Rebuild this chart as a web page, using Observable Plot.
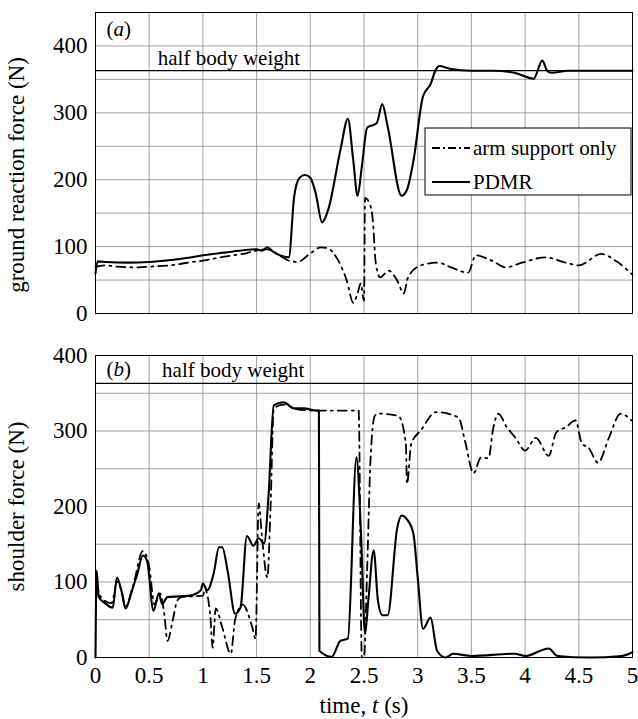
<!DOCTYPE html>
<html>
<head>
<meta charset="utf-8">
<script src="https://cdn.jsdelivr.net/npm/d3@7"></script>
<script src="https://cdn.jsdelivr.net/npm/@observablehq/plot@0.6"></script>
<style>
  body { margin: 0; background: #fff; }
  #chart { width: 638px; }
  #chart svg { display: block; }
</style>
</head>
<body>
<div id="chart"></div>
<script>
// ---------- data ----------
const xTicks = [0, 0.5, 1, 1.5, 2, 2.5, 3, 3.5, 4, 4.5, 5];
const xTickLabels = ["0", "0.5", "1", "1.5", "2", "2.5", "3", "3.5", "4", "4.5", "5"];
const yTicks = [0, 100, 200, 300, 400];
const gridTimes = [0.5, 1, 1.5, 2, 2.5, 3, 3.5, 4, 4.5];
const gridForces = [50, 100, 150, 200, 250, 300, 350, 400];
const halfBodyWeight = 363;
const seriesNames = ["arm support only", "PDMR"];
const panelLetters = ["a", "b"];
const yLabels = ["ground reaction force (N)", "shoulder force (N)"];
const xLabel = "time, t (s)";

// (a) ground reaction force, PDMR  [time s, force N]
const grfPDMR = [
  [0, 60], [0.02, 78], [0.1, 77], [0.3, 76], [0.5, 77], [0.7, 80], [0.9, 84], [1.0, 87],
  [1.2, 91], [1.4, 95], [1.5, 96], [1.55, 94], [1.6, 99], [1.65, 93], [1.8, 84],
  [1.85, 175], [1.9, 203], [1.95, 207], [2.0, 203], [2.05, 180], [2.11, 136],
  [2.13, 140], [2.17, 157], [2.28, 244], [2.35, 291], [2.4, 229], [2.44, 176],
  [2.48, 220], [2.53, 278], [2.59, 282], [2.62, 285], [2.67, 313], [2.72, 280],
  [2.85, 176], [2.9, 185], [2.96, 228], [3.05, 325], [3.12, 343], [3.17, 365],
  [3.2, 370], [3.3, 366], [3.5, 363], [3.7, 363], [3.9, 360], [4.08, 351],
  [4.16, 378], [4.21, 362], [4.25, 360], [4.4, 363], [5.0, 363]
];
// (a) ground reaction force, arm support only
const grfArm = [
  [0, 70], [0.1, 72], [0.2, 70], [0.4, 69], [0.5, 70], [0.7, 72], [0.9, 77], [1.0, 79],
  [1.2, 85], [1.4, 90], [1.5, 94], [1.6, 96], [1.7, 88], [1.8, 79], [1.88, 77],
  [2.0, 90], [2.1, 99], [2.17, 97], [2.25, 82], [2.34, 49], [2.4, 16], [2.44, 30],
  [2.47, 45], [2.5, 19], [2.51, 173], [2.55, 165], [2.58, 143], [2.61, 75],
  [2.65, 54], [2.73, 64], [2.81, 49], [2.87, 30], [2.91, 54], [3.03, 72],
  [3.19, 76], [3.31, 69], [3.47, 61], [3.54, 87], [3.69, 79], [3.82, 69],
  [3.97, 76], [4.19, 84], [4.38, 76], [4.5, 72], [4.71, 89], [4.85, 78], [5.0, 58]
];
// (b) shoulder force, PDMR
const shPDMR = [
  [0, 0], [0.01, 115], [0.03, 80], [0.08, 73], [0.16, 66], [0.2, 106], [0.24, 89],
  [0.28, 65], [0.34, 89], [0.39, 111], [0.44, 135], [0.48, 128], [0.54, 62],
  [0.59, 85], [0.62, 71], [0.67, 80], [0.88, 82], [0.98, 89], [1.0, 98], [1.04, 89],
  [1.1, 111], [1.15, 146], [1.18, 146], [1.23, 115], [1.3, 58], [1.35, 66],
  [1.41, 161], [1.47, 148], [1.52, 158], [1.57, 151], [1.61, 212], [1.66, 334],
  [1.75, 338], [1.85, 330], [1.94, 330], [2.06, 327], [2.08, 327], [2.085, 9],
  [2.2, 1], [2.28, 22], [2.35, 25], [2.43, 265], [2.47, 172], [2.51, 32], [2.54, 75],
  [2.59, 142], [2.63, 75], [2.67, 56], [2.72, 56], [2.81, 172], [2.85, 188],
  [2.9, 183], [2.96, 164], [3.0, 106], [3.05, 38], [3.12, 53], [3.18, 9], [3.26, 0],
  [3.33, 5], [3.5, 2], [3.9, 5], [4.0, 2], [4.22, 12], [4.3, 2], [4.6, 0], [4.9, 2], [5.0, 7]
];
// (b) shoulder force, arm support only
const shArm = [
  [0.01, 100], [0.05, 80], [0.15, 72], [0.2, 100], [0.24, 90], [0.28, 68], [0.35, 95],
  [0.44, 141], [0.5, 120], [0.55, 70], [0.6, 85], [0.64, 58], [0.67, 22], [0.72, 50],
  [0.76, 75], [0.8, 80], [1.0, 82], [1.02, 90], [1.07, 53], [1.09, 13], [1.12, 65],
  [1.18, 40], [1.26, 5], [1.3, 50], [1.37, 70], [1.46, 40], [1.49, 25], [1.52, 204],
  [1.55, 160], [1.6, 106], [1.63, 200], [1.66, 330], [1.75, 335], [1.9, 328],
  [2.1, 327], [2.45, 327], [2.48, 0], [2.5, 0], [2.53, 120], [2.56, 260], [2.6, 320],
  [2.63, 323], [2.82, 320], [2.89, 283], [2.9, 230], [2.94, 283], [3.03, 301],
  [3.17, 325], [3.38, 318], [3.44, 287], [3.52, 244], [3.59, 265], [3.66, 264],
  [3.7, 301], [3.75, 323], [3.83, 305], [3.91, 291], [4.0, 274], [4.1, 291],
  [4.22, 267], [4.29, 298], [4.38, 305], [4.47, 314], [4.53, 283], [4.59, 278],
  [4.68, 258], [4.78, 291], [4.89, 323], [4.99, 314]
];

// ---------- style ----------
const FONT = "'Liberation Serif', 'Times New Roman', serif";
const W = 638, ML = 95, MR = 6;
const gridColor = "#8a8a8a";
const dashDot = "9,5,2,5";

function italicize(svg, full, pieces) {
  d3.select(svg).selectAll("text").filter(function () { return this.textContent === full; })
    .each(function () {
      const t = d3.select(this);
      t.text(null);
      pieces.forEach(([s, it]) => {
        const sp = t.append("tspan").text(s);
        if (it) sp.attr("font-style", "italic");
      });
    });
}

function panel(o) {
  const marks = [
    Plot.gridX(gridTimes, {stroke: gridColor, strokeOpacity: 1, strokeWidth: 0.8}),
    Plot.gridY(gridForces, {stroke: gridColor, strokeOpacity: 1, strokeWidth: 0.8}),
    Plot.ruleY([halfBodyWeight], {stroke: "black", strokeWidth: 1.3}),
    Plot.text(["half body weight"], {text: d => d, x: o.textX, y: halfBodyWeight, dy: -6,
      lineAnchor: "bottom", textAnchor: "start", fontSize: 21}),
    Plot.text(["(" + o.letter + ")"], {text: d => d, frameAnchor: "top-left", dx: 11, dy: o.letterDy,
      lineAnchor: "bottom", textAnchor: "start", fontSize: 21}),
    Plot.line(o.arm, {x: d => d[0], y: d => d[1], stroke: "black", strokeWidth: 1.8,
      strokeDasharray: dashDot, strokeLinejoin: "round", curve: "monotone-x"}),
    Plot.line(o.pdmr, {x: d => d[0], y: d => d[1], stroke: "black", strokeWidth: 2.1,
      strokeLinejoin: "round", curve: "monotone-x"}),
    Plot.axisY(yTicks, {tickSize: 0, tickPadding: 8, fontSize: 23, label: o.yLabel,
      labelAnchor: "center", labelOffset: 88, labelArrow: "none"}),
    Plot.frame({stroke: "black", strokeWidth: 1})
  ];
  if (o.showX) {
    marks.push(Plot.axisX(xTicks, {tickSize: 0, tickPadding: 9, fontSize: 23,
      tickFormat: d => xTickLabels[xTicks.indexOf(d)], label: xLabel,
      labelAnchor: "center", labelOffset: 55, labelArrow: "none"}));
  }
  const svg = Plot.plot({
    width: W, height: o.height,
    marginLeft: ML, marginRight: MR, marginTop: o.marginTop, marginBottom: o.marginBottom,
    style: {fontFamily: FONT, fontSize: "21px", background: "white", color: "black", overflow: "visible"},
    x: {domain: [0, 5], axis: o.showX ? undefined : null},
    y: {domain: [0, o.yMax]},
    marks
  });
  italicize(svg, "(" + o.letter + ")", [["(", false], [o.letter, true], [")", false]]);
  italicize(svg, xLabel, [["time, ", false], ["t", true], [" (s)", false]]);
  if (o.labelShift) {
    d3.select(svg).selectAll('g[aria-label="y-axis label"]')
      .attr("transform", function () {
        return `translate(0,${o.labelShift}) ` + (this.getAttribute("transform") || "");
      });
  }
  return svg;
}

const chartA = panel({letter: panelLetters[0], arm: grfArm, pdmr: grfPDMR, yMax: 450,
  height: 325, marginTop: 12, marginBottom: 12, yLabel: yLabels[0], textX: 0.58, letterDy: 23,
  showX: false, labelShift: 12});
const chartB = panel({letter: panelLetters[1], arm: shArm, pdmr: shPDMR, yMax: 400,
  height: 394, marginTop: 30, marginBottom: 62, yLabel: yLabels[1], textX: 0.62, letterDy: 20,
  showX: true, labelShift: 0});

// legend inside panel (a)
{
  const boxW = 206, boxH = 67;
  const bx = W - MR - 1 - boxW, by = 12 + 116;
  const g = d3.select(chartA).append("g").attr("font-family", FONT).attr("font-size", 21)
    .attr("text-anchor", "start");
  g.append("rect").attr("x", bx).attr("y", by).attr("width", boxW).attr("height", boxH)
    .attr("fill", "white").attr("stroke", "black").attr("stroke-width", 1);
  seriesNames.forEach((name, i) => {
    const yy = by + 20 + i * 34;
    g.append("line").attr("x1", bx + 7).attr("x2", bx + 45).attr("y1", yy).attr("y2", yy)
      .attr("stroke", "black").attr("stroke-width", 1.8)
      .attr("stroke-dasharray", i === 0 ? "8,3,2,3" : null);
    g.append("text").attr("x", bx + 48).attr("y", yy + 7).attr("text-anchor", "start").text(name);
  });
}

document.getElementById("chart").append(chartA, chartB);
</script>
</body>
</html>
